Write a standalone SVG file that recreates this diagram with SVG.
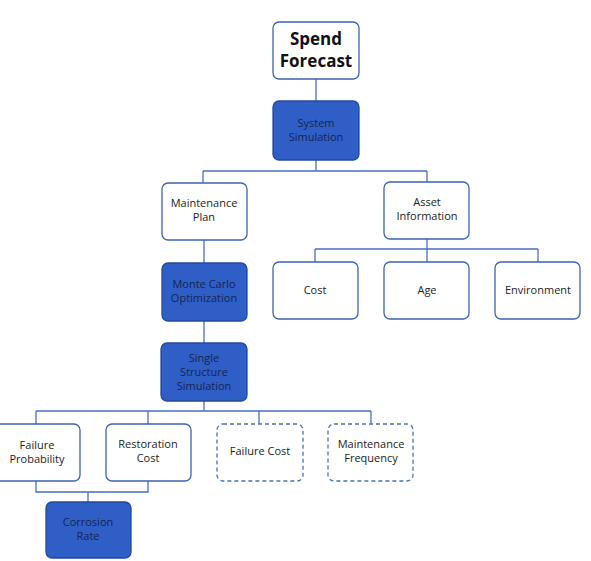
<svg xmlns="http://www.w3.org/2000/svg" width="591" height="561" viewBox="0 0 591 561">
<style>
.w{fill:#fff;stroke:#3d63b3;stroke-width:1.3}
.d{fill:#fff;stroke:#4a70c0;stroke-width:1.3;stroke-dasharray:4 3}
.b{fill:#2f5ec6;stroke:#244a9c;stroke-width:1.3}
text{font-family:"Open Sans","Liberation Sans",sans-serif;font-size:11px;text-anchor:middle;fill:#222}
.bt{fill:#16264f}
.big{font-size:17px;font-weight:bold;fill:#111}
.c{fill:none;stroke:#4a6fbd;stroke-width:1.3}
</style>
<rect width="591" height="561" fill="#fff"/>
<g id="connectors">
<path class="c" d="M316 79V101M316 160V171M203 171H427M203 171V183M427 171V182"/>
<path class="c" d="M204 240V263M204 321V343M427 239V249M315 249H538M315 249V262M427 249V262M538 249V262"/>
<path class="c" d="M204 401V411M36 411H371M36 411V424M148 411V424M259 411V424M371 411V424"/>
<path class="c" d="M36 481V492H148V481M88 492V502"/>
</g>
<g id="spend"><rect class="w" x="273" y="22" width="86" height="57" rx="6"/><text class="big" x="316" y="45">Spend</text><text class="big" x="316" y="67">Forecast</text></g>
<g id="system"><rect class="b" x="273" y="101" width="86" height="59" rx="6"/><text class="bt" x="316" y="127">System</text><text class="bt" x="316" y="141">Simulation</text></g>
<g id="maint"><rect class="w" x="162" y="183" width="85" height="57" rx="6"/><text x="204" y="207">Maintenance</text><text x="204" y="221">Plan</text></g>
<g id="asset"><rect class="w" x="384" y="182" width="85" height="57" rx="6"/><text x="427" y="206">Asset</text><text x="427" y="220">Information</text></g>
<g id="monte"><rect class="b" x="162" y="263" width="85" height="58" rx="6"/><text class="bt" x="204" y="288">Monte Carlo</text><text class="bt" x="204" y="302">Optimization</text></g>
<g id="cost"><rect class="w" x="273" y="262" width="85" height="57" rx="6"/><text x="315" y="294">Cost</text></g>
<g id="age"><rect class="w" x="384" y="262" width="85" height="57" rx="6"/><text x="427" y="294">Age</text></g>
<g id="env"><rect class="w" x="495" y="262" width="85" height="57" rx="6"/><text x="538" y="294">Environment</text></g>
<g id="single"><rect class="b" x="161" y="343" width="86" height="58" rx="6"/><text class="bt" x="204" y="362">Single</text><text class="bt" x="204" y="376">Structure</text><text class="bt" x="204" y="390">Simulation</text></g>
<g id="failprob"><rect class="w" x="-6" y="424" width="86" height="57" rx="6"/><text x="37" y="449">Failure</text><text x="37" y="463">Probability</text></g>
<g id="restor"><rect class="w" x="106" y="424" width="85" height="57" rx="6"/><text x="148" y="448">Restoration</text><text x="148" y="462">Cost</text></g>
<g id="failcost"><rect class="d" x="217" y="424" width="86" height="57" rx="6"/><text x="260" y="455">Failure Cost</text></g>
<g id="mfreq"><rect class="d" x="328" y="424" width="85" height="57" rx="6"/><text x="371" y="448">Maintenance</text><text x="371" y="462">Frequency</text></g>
<g id="corr"><rect class="b" x="46" y="502" width="85" height="56" rx="6"/><text class="bt" x="88" y="526">Corrosion</text><text class="bt" x="88" y="540">Rate</text></g>
</svg>
